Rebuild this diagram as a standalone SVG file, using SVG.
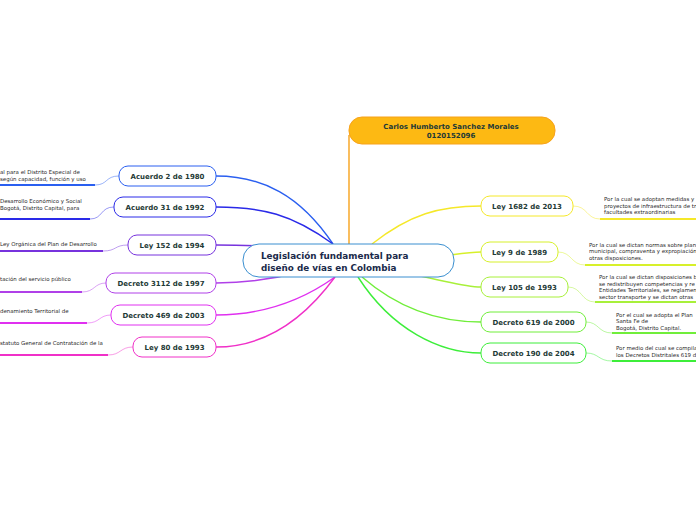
<svg xmlns="http://www.w3.org/2000/svg" width="696" height="520" viewBox="0 0 696 520">
<style>
.bg{fill:#ffffff}
.node rect{fill:#ffffff;stroke-width:1}
.lbl{font-family:"DejaVu Sans",Verdana,sans-serif;font-weight:bold;font-size:7px;fill:#1e3a36;text-anchor:middle}
.note{font-family:"DejaVu Sans",Verdana,sans-serif;font-size:5.45px;fill:#2a2a2a}
.main{fill:none;stroke-width:1.4}
.sub{fill:none;stroke-width:0.8;opacity:0.6}
.ul{fill:none;stroke-width:2}
</style>
<rect class="bg" x="0" y="0" width="696" height="520"/>
<g id="connectors">
  <path class="main" stroke="#f7a21b" d="M349,135 V244"/>
  <path class="main" stroke="#2a5ff0" d="M333,244 C300,195 262,176 216,176"/>
  <path class="main" stroke="#2a2ae8" d="M333,244 C292,214 262,207 216,207"/>
  <path class="main" stroke="#7733dd" d="M300,248 C270,246 240,245 216,245"/>
  <path class="main" stroke="#b040e8" d="M300,272 C270,280 245,283 216,283"/>
  <path class="main" stroke="#e030f0" d="M335,277 C300,302 262,315 216,315"/>
  <path class="main" stroke="#f030c8" d="M335,277 C302,322 262,347 216,347"/>
  <path class="main" stroke="#f5e829" d="M372,244 C410,214 440,206 481,206"/>
  <path class="main" stroke="#d7f02a" d="M450,255 C465,253 472,252 481,252"/>
  <path class="main" stroke="#a8f03a" d="M420,276 C450,282 465,287 481,287"/>
  <path class="main" stroke="#70ee3a" d="M362,277 C400,310 440,322 481,322"/>
  <path class="main" stroke="#3dee3a" d="M358,277 C392,330 440,353 481,353"/>
  <path class="sub" stroke="#2a5ff0" d="M119,176 C105,176 108,185 95,185"/>
  <path class="ul" stroke="#2a5ff0" d="M95,185 H0"/>
  <path class="sub" stroke="#2a2ae8" d="M114,207 C100,207 103,219 90,219"/>
  <path class="ul" stroke="#2a2ae8" d="M90,219 H0"/>
  <path class="sub" stroke="#7733dd" d="M128,245 C114,245 117,251 103,251"/>
  <path class="ul" stroke="#7733dd" d="M103,251 H0"/>
  <path class="sub" stroke="#b040e8" d="M106,283 C94,283 95,292 82,292"/>
  <path class="ul" stroke="#b040e8" d="M82,292 H0"/>
  <path class="sub" stroke="#e030f0" d="M111,315 C99,315 100,323 87,323"/>
  <path class="ul" stroke="#e030f0" d="M87,323 H0"/>
  <path class="sub" stroke="#f030c8" d="M133,347 C120,347 121,355 108,355"/>
  <path class="ul" stroke="#f030c8" d="M108,355 H0"/>
  <path class="sub" stroke="#f5e829" d="M573,206 C588,206 586,219 600,219"/>
  <path class="ul" stroke="#f5e829" d="M600,219 H696"/>
  <path class="sub" stroke="#d7f02a" d="M558,252 C572,252 571,265 585,265"/>
  <path class="ul" stroke="#d7f02a" d="M585,265 H696"/>
  <path class="sub" stroke="#a8f03a" d="M568,287 C582,287 581,302 595,302"/>
  <path class="ul" stroke="#a8f03a" d="M595,302 H696"/>
  <path class="sub" stroke="#70ee3a" d="M586,322 C599,322 598,333 612,333"/>
  <path class="ul" stroke="#70ee3a" d="M612,333 H696"/>
  <path class="sub" stroke="#3dee3a" d="M586,353 C599,353 598,361 612,361"/>
  <path class="ul" stroke="#3dee3a" d="M612,361 H696"/>
</g>
<g id="central">
  <rect x="243" y="244" width="211" height="33" rx="16" fill="#ffffff" stroke="#3a8fd0" stroke-width="1"/>
  <text x="261" y="259" font-family="DejaVu Sans,Verdana,sans-serif" font-weight="bold" font-size="8.8" fill="#1a2a4a">Legislación fundamental para</text>
  <text x="261" y="270.5" font-family="DejaVu Sans,Verdana,sans-serif" font-weight="bold" font-size="8.8" fill="#1a2a4a">diseño de vías en Colombia</text>
</g>
<g id="author">
  <rect x="349" y="117" width="206" height="27" rx="13" fill="#fdb913" stroke="#f7a21b" stroke-width="1"/>
  <text class="lbl" x="451" y="129" font-size="6.9">Carlos Humberto Sanchez Morales</text>
  <text class="lbl" x="451" y="138" font-size="6.9">0120152096</text>
</g>
<g id="n-acuerdo-2-1980" class="node">
  <rect x="119" y="166" width="97" height="20" rx="9" stroke="#2a5ff0"/>
  <text class="lbl" x="167.5" y="178.5">Acuerdo 2 de 1980</text>
  <text class="note" x="0" y="174">al para el Distrito Especial de</text>
  <text class="note" x="0" y="181">según capacidad, función y uso</text>
</g>
<g id="n-acuerdo-31-1992" class="node">
  <rect x="114" y="197" width="102" height="20" rx="9" stroke="#2a2ae8"/>
  <text class="lbl" x="165" y="209.5">Acuerdo 31 de 1992</text>
  <text class="note" x="0" y="203">Desarrollo Económico y Social</text>
  <text class="note" x="0" y="209.5">Bogotá, Distrito Capital, para</text>
</g>
<g id="n-ley-152-1994" class="node">
  <rect x="128" y="235" width="88" height="20" rx="9" stroke="#7733dd"/>
  <text class="lbl" x="172" y="247.5">Ley 152 de 1994</text>
  <text class="note" x="0" y="246">Ley Orgánica del Plan de Desarrollo</text>
</g>
<g id="n-decreto-3112-1997" class="node">
  <rect x="106" y="273" width="110" height="20" rx="9" stroke="#b040e8"/>
  <text class="lbl" x="161" y="285.5">Decreto 3112 de 1997</text>
  <text class="note" x="0" y="281">tación del servicio público</text>
</g>
<g id="n-decreto-469-2003" class="node">
  <rect x="111" y="305" width="105" height="20" rx="9" stroke="#e030f0"/>
  <text class="lbl" x="163.5" y="317.5">Decreto 469 de 2003</text>
  <text class="note" x="0" y="313">denamiento Territorial de</text>
</g>
<g id="n-ley-80-1993" class="node">
  <rect x="133" y="337" width="83" height="20" rx="9" stroke="#f030c8"/>
  <text class="lbl" x="174.5" y="349.5">Ley 80 de 1993</text>
  <text class="note" x="0" y="345">statuto General de Contratación de la</text>
</g>
<g id="n-ley-1682-2013" class="node">
  <rect x="481" y="196" width="92" height="20" rx="9" stroke="#f5e829"/>
  <text class="lbl" x="527" y="208.5">Ley 1682 de 2013</text>
  <text class="note" x="604" y="201">Por la cual se adoptan medidas y</text>
  <text class="note" x="604" y="207.5">proyectos de infraestructura de tr</text>
  <text class="note" x="604" y="214">facultades extraordinarias</text>
</g>
<g id="n-ley-9-1989" class="node">
  <rect x="481" y="242" width="77" height="20" rx="9" stroke="#d7f02a"/>
  <text class="lbl" x="519.5" y="254.5">Ley 9 de 1989</text>
  <text class="note" x="589" y="246.5">Por la cual se dictan normas sobre plan</text>
  <text class="note" x="589" y="253">municipal, compraventa y expropiación</text>
  <text class="note" x="589" y="259.5">otras disposiciones.</text>
</g>
<g id="n-ley-105-1993" class="node">
  <rect x="481" y="277" width="87" height="20" rx="9" stroke="#a8f03a"/>
  <text class="lbl" x="524.5" y="289.5">Ley 105 de 1993</text>
  <text class="note" x="599" y="279">Por la cual se dictan disposiciones b</text>
  <text class="note" x="599" y="285.5">se redistribuyen competencias y re</text>
  <text class="note" x="599" y="292">Entidades Territoriales, se reglamen</text>
  <text class="note" x="599" y="298.5">sector transporte y se dictan otras</text>
</g>
<g id="n-decreto-619-2000" class="node">
  <rect x="481" y="312" width="105" height="20" rx="9" stroke="#70ee3a"/>
  <text class="lbl" x="533.5" y="324.5">Decreto 619 de 2000</text>
  <text class="note" x="616" y="317">Por el cual se adopta el Plan</text>
  <text class="note" x="616" y="323">Santa Fe de</text>
  <text class="note" x="616" y="329.5">Bogotá, Distrito Capital.</text>
</g>
<g id="n-decreto-190-2004" class="node">
  <rect x="481" y="343" width="105" height="20" rx="9" stroke="#3dee3a"/>
  <text class="lbl" x="533.5" y="355.5">Decreto 190 de 2004</text>
  <text class="note" x="616" y="350">Por medio del cual se compila</text>
  <text class="note" x="616" y="357">los Decretos Distritales 619 d</text>
</g>
</svg>
